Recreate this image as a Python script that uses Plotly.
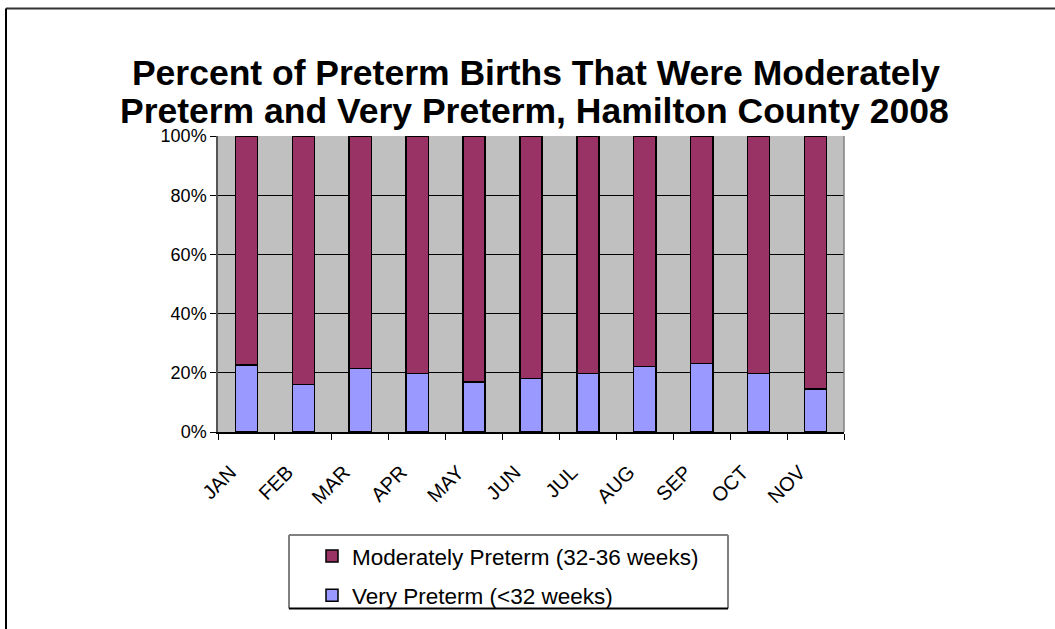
import plotly.graph_objects as go

months = ["JAN", "FEB", "MAR", "APR", "MAY", "JUN", "JUL", "AUG", "SEP", "OCT", "NOV"]
very_preterm = [22.6, 16.1, 21.5, 19.8, 16.9, 18.0, 19.8, 22.1, 23.2, 19.7, 14.6]
moderately_preterm = [77.4, 83.9, 78.5, 80.2, 83.1, 82.0, 80.2, 77.9, 76.8, 80.3, 85.4]
y_tick_values = [0, 20, 40, 60, 80, 100]
y_tick_labels = ["0%", "20%", "40%", "60%", "80%", "100%"]
title_lines = ["Percent of Preterm Births That Were Moderately",
               "Preterm and Very Preterm, Hamilton County 2008"]

W, H = 1055, 629
L, R, T, B = 218, 844, 136, 438


def px(xp):
    return (xp - L) / (R - L)


def py(yp):
    return (B - yp) / (B - T)


FONT = "Liberation Sans, Arial, sans-serif"

fig = go.Figure()
fig.add_trace(go.Bar(
    x=months, y=very_preterm, name="Very Preterm (<32 weeks)",
    marker=dict(color="#9999FF", line=dict(color="black", width=1.5)),
    legendgroup="b", legendrank=2,
))
fig.add_trace(go.Bar(
    x=months, y=moderately_preterm, name="Moderately Preterm (32-36 weeks)",
    marker=dict(color="#993366", line=dict(color="black", width=1.5)),
    legendgroup="a", legendrank=1,
))

shapes = [
    # outer chart border (left and top)
    dict(type="line", xref="paper", yref="paper", x0=px(6), x1=px(1060), y0=py(6), y1=py(6),
         line=dict(color="#333333", width=2)),
    dict(type="line", xref="paper", yref="paper", x0=px(6), x1=px(6), y0=py(6), y1=py(640),
         line=dict(color="black", width=2)),
    # legend box
    dict(type="line", xref="paper", yref="paper", x0=px(289), x1=px(728), y0=py(543), y1=py(543),
         line=dict(color="#808080", width=2)),
    dict(type="line", xref="paper", yref="paper", x0=px(289), x1=px(289), y0=py(543), y1=py(618),
         line=dict(color="#808080", width=2)),
    dict(type="line", xref="paper", yref="paper", x0=px(728), x1=px(728), y0=py(543), y1=py(618),
         line=dict(color="#808080", width=2)),
    dict(type="line", xref="paper", yref="paper", x0=px(289), x1=px(728), y0=py(618), y1=py(618),
         line=dict(color="black", width=2)),
    # plot area right border
    dict(type="line", xref="paper", yref="paper", x0=1, x1=1, y0=0, y1=1,
         line=dict(color="#808080", width=1.5)),
]

title_font = dict(size=35.5, family=FONT, color="black")

fig.update_layout(
    width=W, height=H,
    margin=dict(l=L, r=W - R, t=T, b=H - B, pad=0),
    paper_bgcolor="white",
    plot_bgcolor="#C0C0C0",
    barmode="stack",
    bargap=0.61,
    font=dict(family=FONT, color="black"),
    title=dict(
        text="<b>" + title_lines[0] + "</b>",
        x=536 / W, xanchor="center", xref="container",
        y=1 - 73 / H, yanchor="middle", yref="container",
        font=title_font,
    ),
    annotations=[dict(
        text="<b>" + title_lines[1] + "</b>",
        xref="paper", yref="paper", x=px(534), y=py(110),
        xanchor="center", yanchor="middle", showarrow=False, font=title_font,
    )],
    xaxis=dict(
        tickangle=-45, tickfont=dict(size=20), ticks="outside", tickson="boundaries",
        ticklen=6, tickcolor="black", showline=True, linecolor="black", linewidth=1.5,
        showgrid=False, ticklabelshift=-16, ticklabelstandoff=19,
    ),
    yaxis=dict(
        range=[0, 100], tickmode="array", tickvals=y_tick_values, ticktext=y_tick_labels,
        tickfont=dict(size=18),
        ticks="outside", ticklen=6, tickcolor="black",
        showline=True, linecolor="#555555", linewidth=1.5,
        showgrid=True, gridcolor="black", gridwidth=1, zeroline=False,
    ),
    legend=dict(
        x=px(312), xanchor="left", y=py(543), yanchor="top",
        traceorder="grouped", tracegroupgap=7,
        font=dict(size=22.5, family=FONT), bgcolor="rgba(0,0,0,0)", borderwidth=0,
    ),
    shapes=shapes,
)

fig.write_html("out.html", config={"displayModeBar": False},
               post_script="document.body.style.margin='0';")
